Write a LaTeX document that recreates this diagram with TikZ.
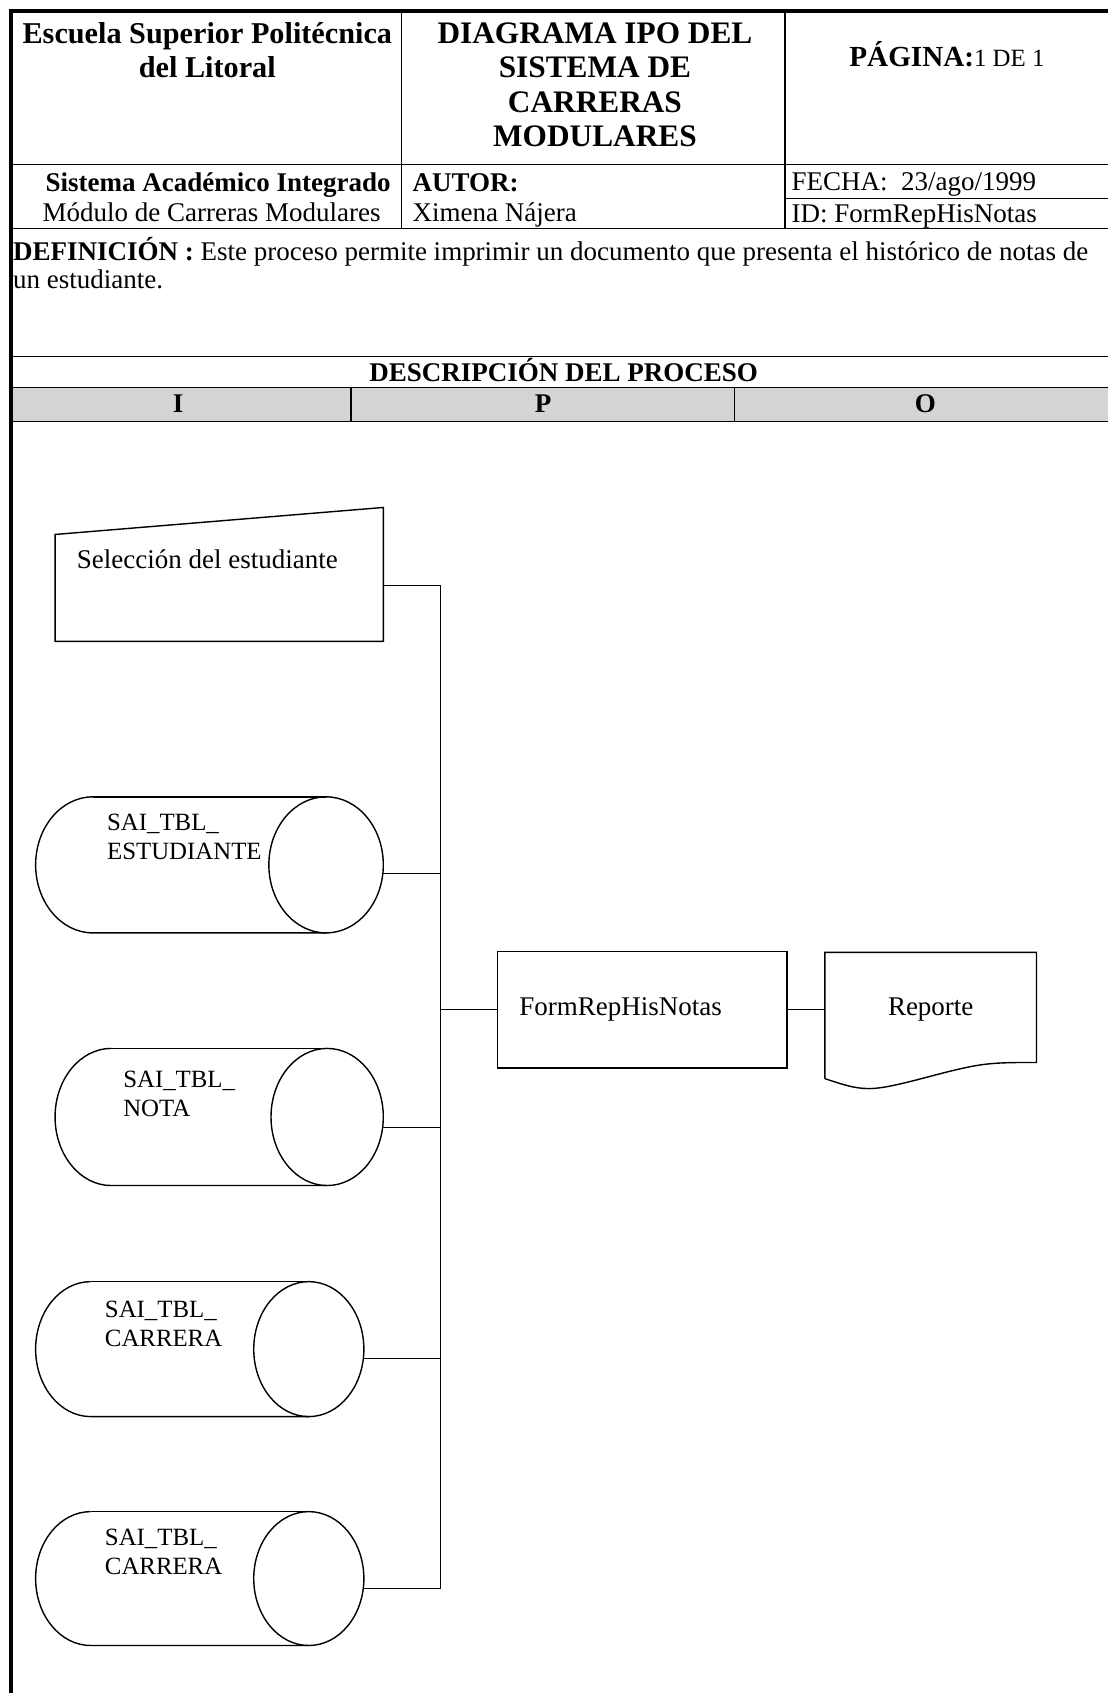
\documentclass[tikz,border=0pt]{standalone}
\usepackage{fontspec}
\setmainfont{Liberation Serif}
\newcommand\dbcyl[6]{% name, x1, x2, ytop, ybottom, rx
  \draw[shp] ({#2+#6},-#4) arc[start angle=90,end angle=270,x radius=#6,y radius={(#5-#4)/2}] -- ({#3-#6},-#5);
  \draw[shp] ({#2+#6},-#4) -- ({#3-#6},-#4);
  \draw[shp] ({#3-#6},{-(#4+#5)/2}) ellipse[x radius=#6,y radius={(#5-#4)/2}];
}
\begin{document}
\begin{tikzpicture}[x=1pt,y=1pt,
  ln/.style={line width=1.1pt},
  brd/.style={line width=3.5pt},
  shp/.style={line width=1.3pt},
  hb/.style={font=\fontsize{29}{32}\selectfont\bfseries, inner sep=0, anchor=base},
  tx/.style={font=\fontsize{25}{28}\selectfont, inner sep=0, anchor=base},
  txb/.style={tx, font=\fontsize{25}{28}\selectfont\bfseries},
  cyltx/.style={font=\fontsize{23}{27}\selectfont, inner sep=0, anchor=north west, align=left},
]
\useasboundingbox (0,0) rectangle (1026,-1568);
\fill[white] (0,0) rectangle (1026,-1568);

% ---------- header frame ----------
\fill[black!17] (10,-359) rectangle (1026,-390);
\draw[ln] (10,-359) -- (1026,-359);
\draw[ln] (10,-390) -- (1026,-390);
\draw[ln] (325,-359) -- (325,-390);
\draw[ln] (680,-359) -- (680,-390);
\draw[ln] (10,-152) -- (1026,-152);
\draw[ln] (10,-212) -- (1026,-212);
\draw[ln] (727,-184) -- (1026,-184);
\draw[ln] (372,-10) -- (372,-212);
\draw[ln] (727,-10) -- (727,-212);
\draw[ln] (10,-330) -- (1026,-330);
\draw[brd] (10,-1568) -- (10,-10) -- (1026,-10);

% ---------- header texts ----------
\node[hb, font=\fontsize{28}{31}\selectfont\bfseries] (h1a) at (192,-40) {Escuela Superior Politécnica};
\node[hb, font=\fontsize{28}{31}\selectfont\bfseries] (h1b) at (192,-72) {del Litoral};
\node[hb] (h2a) at (551,-40) {DIAGRAMA IPO DEL};
\node[hb] (h2b) at (551,-72) {SISTEMA DE};
\node[hb] (h2c) at (551,-104) {CARRERAS};
\node[hb] (h2d) at (551,-136) {MODULARES};
\node[hb] (h3) at (877,-62) {\fontsize{27}{30}\selectfont PÁGINA:\mdseries\fontsize{23}{26}\selectfont 1 DE 1};

\node[txb] (s1) at (202,-177) {Sistema Académico Integrado};
\node[tx] (s2) at (196,-205) {Módulo de Carreras Modulares};
\node[txb, anchor=base west] (a1) at (382,-177) {AUTOR:};
\node[tx, anchor=base west] (a2) at (382,-205) {Ximena Nájera};
\node[tx, anchor=base west] (f1) at (733,-176) {FECHA:\ \ 23/ago/1999};
\node[tx, anchor=base west] (f2) at (733,-206) {ID: FormRepHisNotas};

\node[tx, anchor=base west] (d1) at (12,-241) {\textbf{DEFINICIÓN :} Este proceso permite imprimir un documento que presenta el histórico de notas de};
\node[tx, anchor=base west] (d2) at (12,-267) {un estudiante.};

\node[txb] (dp) at (522,-353) {DESCRIPCIÓN DEL PROCESO};
\node[txb] (li) at (165,-382) {I};
\node[txb] (lp) at (503,-382) {P};
\node[txb] (lo) at (857,-382) {O};

% ---------- input shapes ----------
\draw[shp] (51,-495) -- (355,-470) -- (355,-594) -- (51,-594) -- cycle;
\node[tx, anchor=west] (sel) at (71,-518) {Selección del estudiante};
\coordinate (selout) at (355,-542);

\dbcyl{c1}{33}{355}{738}{864}{53}
\node[cyltx] (t1) at (99,-754) {SAI\_TBL\_\\ESTUDIANTE};
\coordinate (c1out) at (355,-809);

\dbcyl{c2}{51}{355}{971}{1098}{52}
\node[cyltx] (t2) at (114,-992) {SAI\_TBL\_\\NOTA};
\coordinate (c2out) at (355,-1044);

\dbcyl{c3}{33}{337}{1187}{1312}{51}
\node[cyltx] (t3) at (97,-1205) {SAI\_TBL\_\\CARRERA};
\coordinate (c3out) at (337,-1258);

\dbcyl{c4}{33}{337}{1400}{1524}{51}
\node[cyltx] (t4) at (97,-1416) {SAI\_TBL\_\\CARRERA};
\coordinate (c4out) at (337,-1471);

% ---------- bus ----------
\coordinate (btop) at (408,-542);
\coordinate (bbot) at (408,-1471);
\coordinate (bmid) at (408,-935);
\draw[ln] (btop) -- (bbot);
\draw[ln] (selout) -- (btop);
\draw[ln] (c1out) -- (c1out -| btop);
\draw[ln] (c2out) -- (c2out -| btop);
\draw[ln] (c3out) -- (c3out -| btop);
\draw[ln] (c4out) -- (bbot);

% ---------- process and output ----------
\node[shp, draw, minimum width=268pt, minimum height=108pt, text width=228pt, inner xsep=20pt, align=left,
      font=\fontsize{25}{28}\selectfont] (proc) at (595,-935) {FormRepHisNotas};
\draw[ln] (bmid) -- (proc.west);

\node[minimum width=196pt, minimum height=106pt, inner sep=0, font=\fontsize{25}{28}\selectfont] (rep) at (862,-935) {Reporte};
\draw[shp] (764,-999) -- (764,-882) -- (960,-882) -- (960,-984)
  .. controls (940,-984) and (925,-984) .. (910,-986)
  .. controls (880,-990) and (835,-1006) .. (810,-1008)
  .. controls (795,-1009) and (785,-1006) .. (764,-999);
\draw[ln] (proc.east) -- (rep.west);
\end{tikzpicture}
\end{document}
